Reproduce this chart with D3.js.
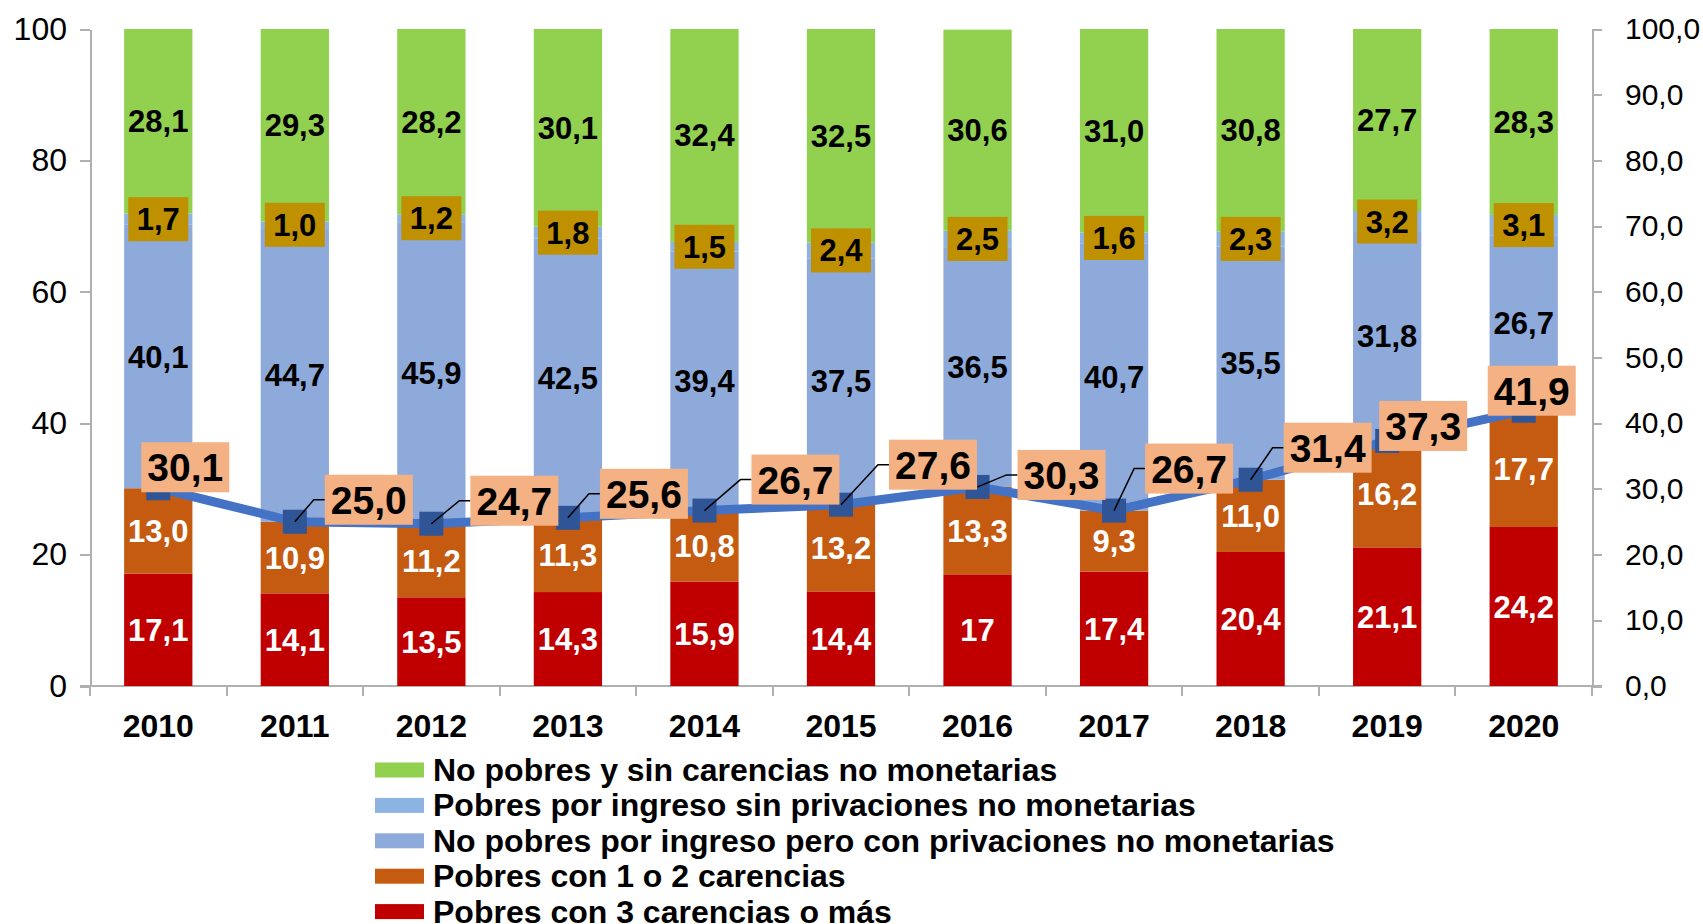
<!DOCTYPE html>
<meta charset="utf-8">
<style>
body { margin: 0; background: #fff; }
svg { font-family: "Liberation Sans", Arial, sans-serif; }
.axis path, .axis line { stroke: #b0b0b0; stroke-width: 2; shape-rendering: crispEdges; }
.axis text { fill: #000; }
</style>
<body>
<script src="https://d3js.org/d3.v7.min.js"></script>
<script>

// categories
var years = ["2010","2011","2012","2013","2014","2015","2016","2017","2018","2019","2020"];

// stacked series, bottom to top
var tresCarencias   = [17.1, 14.1, 13.5, 14.3, 15.9, 14.4, 17.0, 17.4, 20.4, 21.1, 24.2];
var tresCarText     = ["17,1","14,1","13,5","14,3","15,9","14,4","17","17,4","20,4","21,1","24,2"];
var unoDosCarencias = [13.0, 10.9, 11.2, 11.3, 10.8, 13.2, 13.3, 9.3, 11.0, 16.2, 17.7];
var noPobresConPriv = [40.1, 44.7, 45.9, 42.5, 39.4, 37.5, 36.5, 40.7, 35.5, 31.8, 26.7];
var pobresSinPriv   = [1.7, 1.0, 1.2, 1.8, 1.5, 2.4, 2.5, 1.6, 2.3, 3.2, 3.1];
var noPobresSinCar  = [28.1, 29.3, 28.2, 30.1, 32.4, 32.5, 30.6, 31.0, 30.8, 27.7, 28.3];

// line (right axis)
var pobreza = [30.1, 25.0, 24.7, 25.6, 26.7, 27.6, 30.3, 26.7, 31.4, 37.3, 41.9];

var leftTicks = [0, 20, 40, 60, 80, 100];
var rightTicks = [0, 10, 20, 30, 40, 50, 60, 70, 80, 90, 100];

// label placement for the line values (pixel shift from marker)
var labelShift = [[27,-21],[74,-22],[83,-23],[76,-24],[91,-31],[92,-40],[84,-12],[75,-42],[77,-32],[36,-15],[8,-20]];

var width = 1703, height = 924;
var m = {left: 90, right: 1592, top: 29, bottom: 686};

var es = d3.formatLocale({decimal: ",", thousands: ".", grouping: [3], currency: ["", "€"]});
var f1 = es.format(".1f");

var svg = d3.select("body").append("svg")
    .attr("width", width)
    .attr("height", height);

var x = d3.scaleBand().domain(years).range([m.left, m.right]).paddingInner(0.5).paddingOuter(0.25);
var y = d3.scaleLinear().domain([0, 100]).range([m.bottom, m.top]);
var y2 = d3.scaleLinear().domain([0, 100]).range([m.bottom, m.top]);

var series = [
  {name: "Pobres con 3 carencias o más", vals: tresCarencias, color: "#c00000", text: "#fff"},
  {name: "Pobres con 1 o 2 carencias", vals: unoDosCarencias, color: "#c55a11", text: "#fff"},
  {name: "No pobres por ingreso pero con privaciones no monetarias", vals: noPobresConPriv, color: "#8eaadb", text: "#000"},
  {name: "Pobres por ingreso sin privaciones no monetarias", vals: pobresSinPriv, color: "#8db3e2", text: "#000", box: "#bf9000"},
  {name: "No pobres y sin carencias no monetarias", vals: noPobresSinCar, color: "#92d050", text: "#000"}
];

// axes
var step = x.step();
var gx = svg.append("g").attr("class", "axis").attr("transform", "translate(0," + m.bottom + ")");
gx.append("line").attr("x1", m.left - 10).attr("x2", m.right + 10).attr("y1", 0).attr("y2", 0);
gx.selectAll(".bt").data(d3.range(years.length + 1)).enter().append("line")
    .attr("x1", function(i) { return m.left + i * step; })
    .attr("x2", function(i) { return m.left + i * step; })
    .attr("y1", 0).attr("y2", 10);
gx.selectAll("text").data(years).enter().append("text")
    .attr("x", function(d) { return x(d) + x.bandwidth() / 2; })
    .attr("y", 51)
    .attr("text-anchor", "middle")
    .style("font-size", "32px").style("font-weight", "bold")
    .text(function(d) { return d; });

svg.append("g").attr("class", "axis")
    .attr("transform", "translate(" + m.left + ",0)")
    .call(d3.axisLeft(y).tickValues(leftTicks).tickSize(10).tickSizeOuter(0).tickPadding(13))
    .call(function(g) { g.selectAll("text").style("font-size", "32px"); });

svg.append("g").attr("class", "axis")
    .attr("transform", "translate(" + m.right + ",0)")
    .call(d3.axisRight(y2).tickValues(rightTicks).tickFormat(f1).tickSize(10).tickSizeOuter(0).tickPadding(23))
    .call(function(g) { g.selectAll("text").style("font-size", "30px"); });

// stacked bars
var base = years.map(function() { return 0; });
series.forEach(function(s) {
  var g = svg.append("g");
  g.selectAll("rect").data(years).enter().append("rect")
      .attr("x", function(d) { return x(d); })
      .attr("width", x.bandwidth())
      .attr("y", function(d, i) { return y(base[i] + s.vals[i]); })
      .attr("height", function(d, i) { return y(base[i]) - y(base[i] + s.vals[i]); })
      .attr("fill", s.color);
  s.base = base.slice();
  base = base.map(function(b, i) { return b + s.vals[i]; });
});

// line
var line = d3.line()
    .x(function(d, i) { return x(years[i]) + x.bandwidth() / 2; })
    .y(function(d) { return y2(d); });

svg.append("path").datum(pobreza)
    .attr("d", line)
    .attr("fill", "none")
    .attr("stroke", "#4472c4")
    .attr("stroke-width", 9);

svg.selectAll(".mk").data(pobreza).enter().append("rect")
    .attr("x", function(d, i) { return x(years[i]) + x.bandwidth() / 2 - 12; })
    .attr("y", function(d) { return y2(d) - 12; })
    .attr("width", 24).attr("height", 24)
    .attr("fill", "#2f5597");

// segment labels
series.forEach(function(s) {
  var g = svg.append("g");
  years.forEach(function(yr, i) {
    var cx = x(yr) + x.bandwidth() / 2;
    var cy = y(s.base[i] + s.vals[i] / 2);
    if (s.box) {
      g.append("rect").attr("x", cx - 30).attr("y", cy - 22).attr("width", 60).attr("height", 44).attr("fill", s.box);
    }
    g.append("text")
        .attr("x", cx).attr("y", cy + 11)
        .attr("text-anchor", "middle")
        .attr("fill", s.text)
        .style("font-size", "31px").style("font-weight", "bold")
        .text(s.vals === tresCarencias ? tresCarText[i] : f1(s.vals[i]));
  });
});

// line labels with leader lines
var lab = svg.append("g");
pobreza.forEach(function(v, i) {
  var mx = x(years[i]) + x.bandwidth() / 2, my = y2(v);
  var cx = mx + labelShift[i][0], cy = my + labelShift[i][1];
  var bl = cx - 44;
  if (bl > mx + 14) {
    lab.append("path")
        .attr("d", "M" + mx + "," + my + "L" + (bl - 11) + "," + cy + "L" + bl + "," + cy)
        .attr("fill", "none").attr("stroke", "#000").attr("stroke-width", 1.5);
  }
  lab.append("rect").attr("x", bl).attr("y", cy - 25).attr("width", 88).attr("height", 50).attr("fill", "#f4b183");
  lab.append("text").attr("x", cx).attr("y", cy + 14)
      .attr("text-anchor", "middle")
      .style("font-size", "39px").style("font-weight", "bold")
      .text(f1(v));
});

// legend
var legendItems = [series[4], series[3], series[2], series[1], series[0]];
var lg = svg.append("g");
legendItems.forEach(function(s, i) {
  var cy = 770 + i * 35.4;
  lg.append("rect").attr("x", 375).attr("y", cy - 7.5).attr("width", 49).attr("height", 15).attr("fill", s.color);
  lg.append("text").attr("x", 433).attr("y", cy + 11)
      .style("font-size", "32px").style("font-weight", "bold")
      .text(s.name);
});

</script>
